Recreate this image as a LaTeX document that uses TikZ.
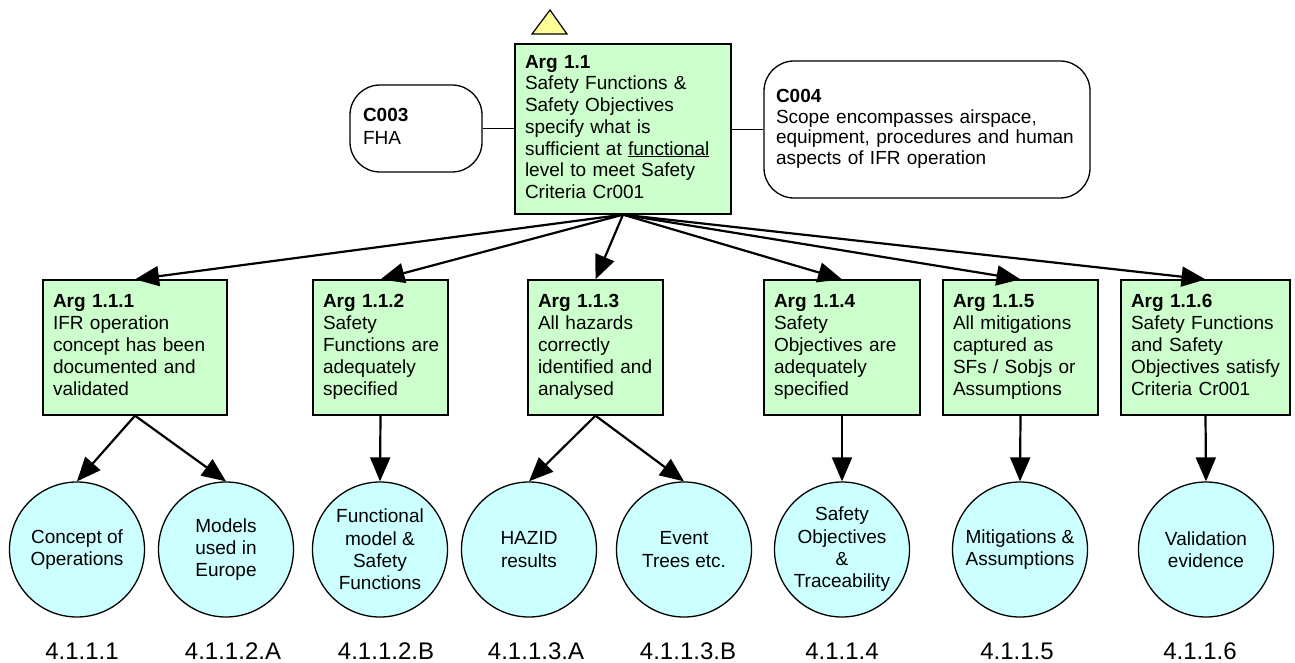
\documentclass[tikz,border=0pt]{standalone}
\usepackage{fontspec}
\setmainfont{Liberation Sans}
\usetikzlibrary{arrows.meta}
\definecolor{goalgreen}{HTML}{CCFFCC}
\definecolor{solcyan}{HTML}{CCFFFF}
\definecolor{awayyellow}{HTML}{FFFF99}
% keep each typed line on one line, flush left
\newcommand\boxlines[1]{\begin{tabular}{@{}l@{}}#1\end{tabular}}
\begin{document}
\begin{tikzpicture}[x=1pt,y=-1pt,
  argbox/.style={rectangle, draw=black, line width=1.3pt, fill=goalgreen,
    inner xsep=10pt, inner ysep=0pt, align=left,
    font=\fontsize{19}{22}\selectfont},
  ctxbox/.style={rectangle, draw=black, line width=1.3pt, fill=white,
    rounded corners=30pt, inner xsep=12pt, inner ysep=0pt, align=left,
    font=\fontsize{19}{20.5}\selectfont},
  solcirc/.style={circle, draw=black, line width=1.3pt, fill=solcyan,
    minimum size=135pt, inner sep=0pt, align=center,
    font=\fontsize{19}{22.3}\selectfont},
  reflabel/.style={inner sep=0pt, font=\fontsize{24}{28}\selectfont},
  supports/.style={line width=2.2pt, -{Triangle[length=24pt,width=20pt]}},
  incontext/.style={line width=1.2pt},
]
\useasboundingbox (0,0) rectangle (1295,663);

% away-goal marker above the top argument
\draw[line width=1.2pt, fill=awayyellow] (550,10) -- (567,34) -- (532,34) -- cycle;

% top argument and its contexts
\node[argbox, text width=196pt, minimum height=170pt, font=\fontsize{19}{21.7}\selectfont] (a11) at (623,129)
  {\boxlines{\textbf{Arg 1.1}\\Safety Functions \&\\Safety Objectives\\specify what is\\sufficient at \underline{functional}\\level to meet Safety\\Criteria Cr001}};
\node[ctxbox, text width=106pt, minimum height=87pt, inner xsep=13pt, font=\fontsize{19}{23}\selectfont] (c003) at (416,128.5)
  {\boxlines{\textbf{C003}\\FHA}};
\node[ctxbox, text width=302pt, minimum height=137pt] (c004) at (927,129.5)
  {\boxlines{\textbf{C004}\\Scope encompasses airspace,\\equipment, procedures and human\\aspects of IFR operation}};
\draw[incontext] (c003.east) -- (c003.east -| a11.west);
\draw[incontext] (c004.west -| a11.east) -- (c004.west);

% sub-arguments
\node[argbox, text width=164pt, minimum height=135pt] (a111) at (135,347.5)
  {\boxlines{\textbf{Arg 1.1.1}\\IFR operation\\concept has been\\documented and\\validated}};
\node[argbox, text width=115pt, minimum height=135pt] (a112) at (380.5,347.5)
  {\boxlines{\textbf{Arg 1.1.2}\\Safety\\Functions are\\adequately\\specified}};
\node[argbox, text width=115pt, minimum height=135pt] (a113) at (595.5,347.5)
  {\boxlines{\textbf{Arg 1.1.3}\\All hazards\\correctly\\identified and\\analysed}};
\node[argbox, text width=136pt, minimum height=135pt] (a114) at (842,347.5)
  {\boxlines{\textbf{Arg 1.1.4}\\Safety\\Objectives are\\adequately\\specified}};
\node[argbox, text width=135pt, minimum height=135pt] (a115) at (1020.5,347.5)
  {\boxlines{\textbf{Arg 1.1.5}\\All mitigations\\captured as\\SFs / Sobjs or\\Assumptions}};
\node[argbox, text width=149pt, minimum height=135pt] (a116) at (1205.5,347.5)
  {\boxlines{\textbf{Arg 1.1.6}\\Safety Functions\\and Safety\\Objectives satisfy\\Criteria Cr001}};

% solutions
\node[solcirc] (s1) at (77,549.5) {Concept of\\Operations};
\node[solcirc] (s2) at (226,549.5) {Models\\used in\\Europe};
\node[solcirc] (s3) at (380,549.5) {Functional\\model \&\\Safety\\Functions};
\node[solcirc] (s4) at (529,549.5) {HAZID\\results};
\node[solcirc] (s5) at (684,549.5) {Event\\Trees etc.};
\node[solcirc] (s6) at (842,549.5) {Safety\\Objectives\\\&\\Traceability};
\node[solcirc] (s7) at (1020,549.5) {Mitigations \&\\Assumptions};
\node[solcirc] (s8) at (1206,549.5) {Validation\\evidence};

% section references
\node[reflabel] (r1) at (82,651) {4.1.1.1};
\node[reflabel] (r2) at (233,651) {4.1.1.2.A};
\node[reflabel] (r3) at (386,651) {4.1.1.2.B};
\node[reflabel] (r4) at (536,651) {4.1.1.3.A};
\node[reflabel] (r5) at (688,651) {4.1.1.3.B};
\node[reflabel] (r6) at (842,651) {4.1.1.4};
\node[reflabel] (r7) at (1017,651) {4.1.1.5};
\node[reflabel] (r8) at (1200,651) {4.1.1.6};

% supported-by links
\foreach \child in {a111,a112,a113,a114,a115,a116}
  \draw[supports] (a11.south) -- (\child.north);
\draw[supports] (a111.south) -- (s1.north);
\draw[supports] (a111.south) -- (s2.north);
\draw[supports] (a112.south) -- (s3.north);
\draw[supports] (a113.south) -- (s4.north);
\draw[supports] (a113.south) -- (s5.north);
\draw[supports] (a114.south) -- (s6.north);
\draw[supports] (a115.south) -- (s7.north);
\draw[supports] (a116.south) -- (s8.north);
\end{tikzpicture}
\end{document}
